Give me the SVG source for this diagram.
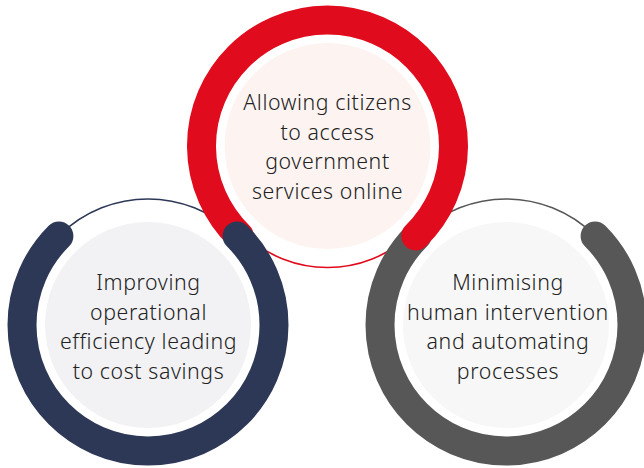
<svg xmlns="http://www.w3.org/2000/svg" width="644" height="468" viewBox="0 0 644 468">
  <style>
    .label { font-family: "Noto Sans", "Noto Sans CJK JP", "Liberation Sans", sans-serif; font-size: 21.3px; font-weight: 300; fill: #222222; text-anchor: middle; letter-spacing: 0.6px; }
    .arc { fill: none; stroke-width: 29; stroke-linecap: round; }
    .thin { fill: none; stroke-width: 1.6; }
  </style>
  <rect width="644" height="468" fill="#ffffff"/>

  <!-- thin guide rings behind every arc -->
  <g id="rings">
    <circle class="thin" cx="327.5" cy="146" r="121.5" stroke="#E00B1C"/>
    <circle class="thin" cx="148" cy="325" r="126" stroke="#2D3856"/>
    <circle class="thin" cx="506" cy="325" r="126" stroke="#575757"/>
  </g>

  <g id="node-automation">
    <circle cx="506" cy="325" r="103" fill="#F7F7F7"/>
    <path class="arc" stroke="#575757" d="M595.1 235.9 A126 126 0 1 1 416.9 235.9"/>
    <text class="label" x="508" y="290">Minimising</text>
    <text class="label" x="508" y="319.5">human intervention</text>
    <text class="label" x="508" y="349">and automating</text>
    <text class="label" x="508" y="378.5">processes</text>
  </g>

  <g id="node-access">
    <circle cx="327.5" cy="146" r="103" fill="#FDF4F1"/>
    <path class="arc" stroke="#E00B1C" d="M239.2 235.9 A126 126 0 1 1 415.8 235.9"/>
    <text class="label" x="327.5" y="110">Allowing citizens</text>
    <text class="label" x="327.5" y="139.5">to access</text>
    <text class="label" x="327.5" y="169">government</text>
    <text class="label" x="327.5" y="198.5">services online</text>
  </g>

  <g id="node-efficiency">
    <circle cx="148" cy="325" r="103" fill="#F2F2F4"/>
    <path class="arc" stroke="#2D3856" d="M237.1 235.9 A126 126 0 1 1 58.9 235.9"/>
    <text class="label" x="148.5" y="290">Improving</text>
    <text class="label" x="148.5" y="319.5">operational</text>
    <text class="label" x="148.5" y="349">efficiency leading</text>
    <text class="label" x="148.5" y="378.5">to cost savings</text>
  </g>
</svg>
